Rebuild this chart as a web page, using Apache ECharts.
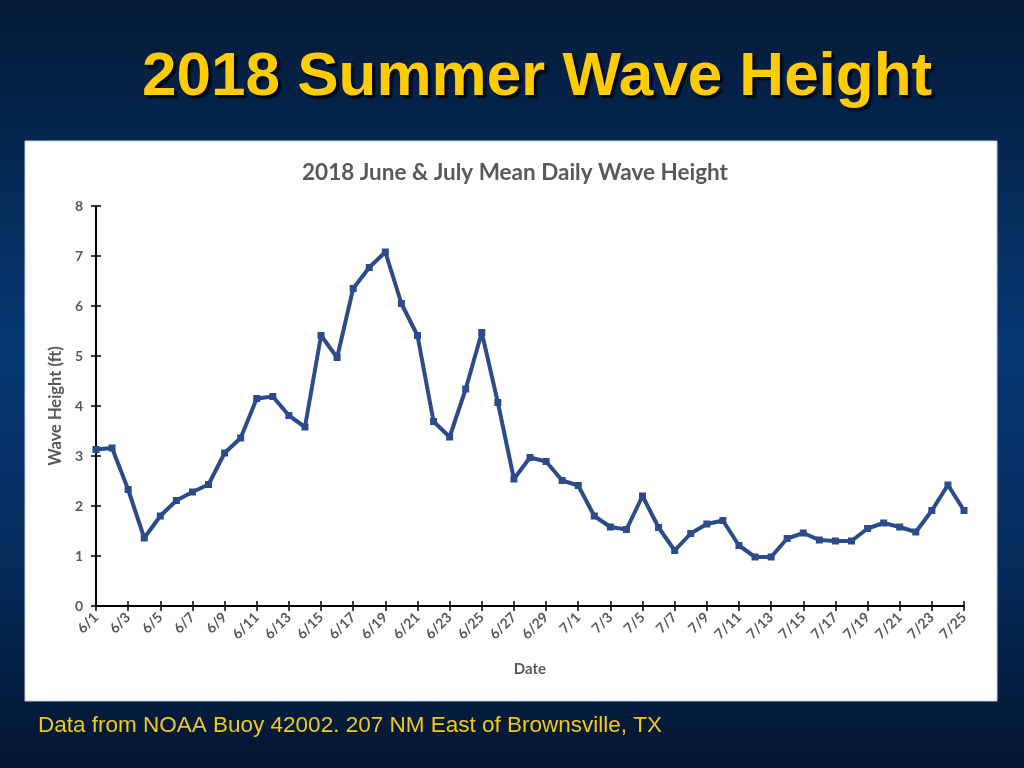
<!DOCTYPE html>
<html>
<head>
<meta charset="utf-8">
<style>
html,body{margin:0;padding:0;background:#04214a;}
#chart{width:1024px;height:768px;}
</style>
<script src="https://cdn.jsdelivr.net/npm/echarts@6/dist/echarts.min.js"></script>
</head>
<body>
<div id="chart"></div>
<script>
const dates = ['6/1','6/2','6/3','6/4','6/5','6/6','6/7','6/8','6/9','6/10','6/11','6/12','6/13','6/14','6/15','6/16','6/17','6/18','6/19','6/20','6/21','6/22','6/23','6/24','6/25','6/26','6/27','6/28','6/29','6/30',
 '7/1','7/2','7/3','7/4','7/5','7/6','7/7','7/8','7/9','7/10','7/11','7/12','7/13','7/14','7/15','7/16','7/17','7/18','7/19','7/20','7/21','7/22','7/23','7/24','7/25'];
const waveHeight = [3.13,3.16,2.33,1.36,1.80,2.11,2.28,2.43,3.06,3.36,4.15,4.19,3.81,3.58,5.41,4.97,6.35,6.77,7.08,6.05,5.41,3.69,3.38,4.34,5.47,4.07,2.54,2.97,2.89,2.51,
 2.41,1.80,1.58,1.53,2.20,1.57,1.11,1.45,1.64,1.71,1.21,0.98,0.98,1.35,1.46,1.32,1.30,1.30,1.55,1.66,1.58,1.48,1.91,2.42,1.91];
const yTicks = [0,1,2,3,4,5,6,7,8];

const chart = echarts.init(document.getElementById('chart'), null, {renderer:'canvas'});
const gray = '#595959';
const lineColor = '#2C4B8B';
chart.setOption({
  backgroundColor: new echarts.graphic.LinearGradient(0,0,0,1,[
    {offset:0,color:'#041a37'},
    {offset:0.45,color:'#063873'},
    {offset:0.75,color:'#052a5a'},
    {offset:1,color:'#03152f'}
  ]),
  animation:false,
  graphic:[
    {type:'rect',z:-10,shape:{x:25,y:141,width:972,height:560},style:{fill:'#ffffff',stroke:'#c8ccd4',lineWidth:1}}
  ],
  title:[
    {text:'2018 Summer Wave Height',left:137,top:42,
     textStyle:{fontFamily:'Liberation Sans',fontWeight:'bold',fontSize:62,color:'#FFCC00',
       textShadowColor:'rgba(0,0,0,0.85)',textShadowOffsetX:3,textShadowOffsetY:3,textShadowBlur:2}},
    {text:'2018 June & July Mean Daily Wave Height',left:510,textAlign:'center',top:156,
     textStyle:{fontFamily:'Lato',fontWeight:'bold',fontSize:22.5,color:gray}},
    {text:'Data from NOAA Buoy 42002. 207 NM East of Brownsville, TX',left:33,top:709,
     textStyle:{fontFamily:'Liberation Sans',fontWeight:'normal',fontSize:22.5,color:'#F2C81A'}}
  ],
  grid:{left:96,right:60,top:206,bottom:162,containLabel:false},
  xAxis:[
    {type:'category',data:dates,boundaryGap:false,
     name:'Date',nameLocation:'middle',nameGap:56,
     nameTextStyle:{fontFamily:'Lato',fontWeight:'bold',fontSize:15,color:gray},
     axisLine:{lineStyle:{color:'#000',width:2}},
     axisTick:{interval:1,length:5,lineStyle:{color:'#000',width:1.5}},
     axisLabel:{interval:1,rotate:45,margin:9,fontFamily:'Lato',fontWeight:'bold',fontSize:14,color:gray},
     splitLine:{show:false}},
    {type:'category',data:dates,boundaryGap:false,position:'bottom',
     axisLine:{show:false},
     axisTick:{interval:1,inside:true,length:5,lineStyle:{color:'#000',width:1.5}},
     axisLabel:{show:false},splitLine:{show:false}}
  ],
  yAxis:[
    {type:'value',min:0,max:8,interval:1,
     name:'Wave Height (ft)',nameLocation:'middle',nameGap:32,nameRotate:90,
     nameTextStyle:{fontFamily:'Lato',fontWeight:'bold',fontSize:16.5,color:gray},
     axisLine:{show:true,lineStyle:{color:'#000',width:2}},
     axisTick:{show:true,length:5,lineStyle:{color:'#000',width:1.5}},
     axisLabel:{margin:13,fontFamily:'Lato',fontWeight:'bold',fontSize:14,color:gray,
       formatter:function(v){return yTicks.indexOf(v)>=0?String(v):'';}},
     splitLine:{show:false}},
    {type:'value',min:0,max:8,interval:1,position:'left',
     axisLine:{show:false},
     axisTick:{show:true,inside:true,length:5,lineStyle:{color:'#000',width:1.5}},
     axisLabel:{show:false},splitLine:{show:false}}
  ],
  series:[{
    type:'line',data:waveHeight,xAxisIndex:0,yAxisIndex:0,
    lineStyle:{color:lineColor,width:4},
    itemStyle:{color:lineColor},
    symbol:'rect',symbolSize:7,showSymbol:true
  }]
});
</script>
</body>
</html>
